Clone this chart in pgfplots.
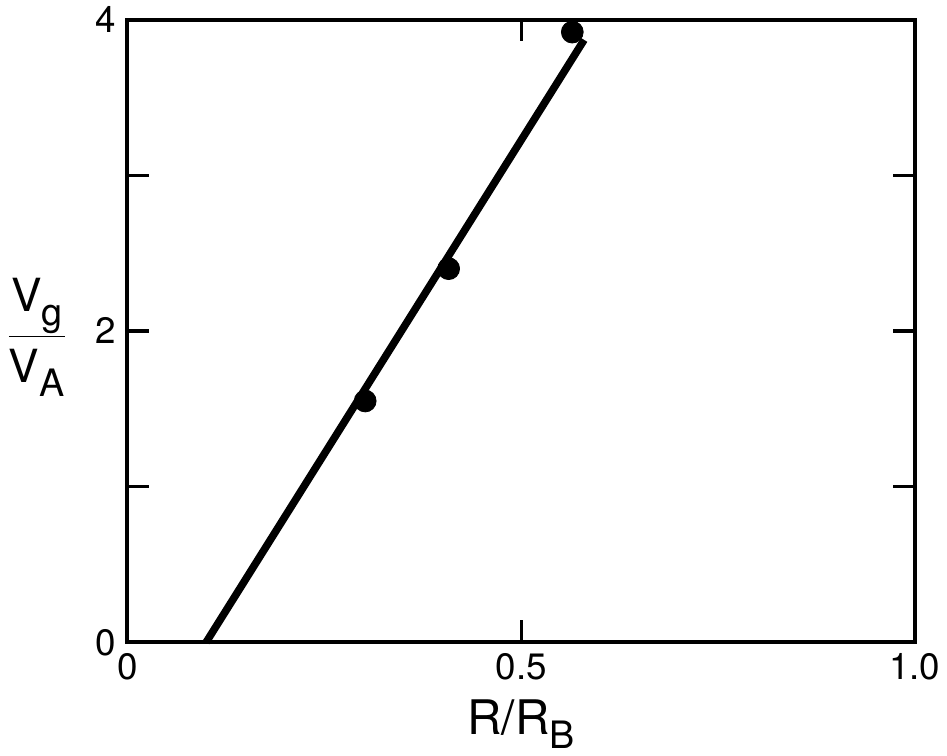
\documentclass[border=0pt]{standalone}
\usepackage{fontspec}
\setmainfont{TeX Gyre Heros}
\usepackage{pgfplots}
\pgfplotsset{compat=1.18}

\begin{document}
\begin{tikzpicture}
\begin{axis}[
    scale only axis,
    width=396.5pt, height=313.5pt,
    xmin=0, xmax=1, ymin=0, ymax=4,
    xtick={0,0.5,1}, xticklabels={0,0.5,1.0},
    ytick={0,1,2,3,4}, yticklabels={0,{},2,{},4},
    tick align=inside,
    major tick length=11pt,
    every tick/.style={black, line width=1.6pt},
    axis line style={line width=2pt},
    tick label style={font=\fontsize{18.5}{20}\selectfont},
    yticklabel style={xshift=-2pt},
    xticklabel style={yshift=-2pt},
    /pgf/number format/assume math mode=true,
    xlabel={R/R\raisebox{-0.3em}{\fontsize{19}{20}\selectfont B}},
    xlabel style={font=\fontsize{24}{26}\selectfont, yshift=-3pt},
    ylabel={$\displaystyle\frac{\hbox{V\raisebox{-0.3em}{\fontsize{19}{20}\selectfont g}}}{\hbox{V\raisebox{-0.3em}{\fontsize{19}{20}\selectfont A}}}$},
    every axis y label/.style={at={(axis description cs:-0.115,0.49)}, anchor=center,
        font=\fontsize{23}{26}\selectfont},
    clip=false,
]
% fitted line
\addplot[black, line width=3.8pt] coordinates {(0.10,0) (0.58,3.87)};
% measured points
\addplot[only marks, mark=*, mark size=5.5pt, black] coordinates {
    (0.302,1.55) (0.408,2.40) (0.565,3.92)
};
\end{axis}
\end{tikzpicture}
\end{document}
